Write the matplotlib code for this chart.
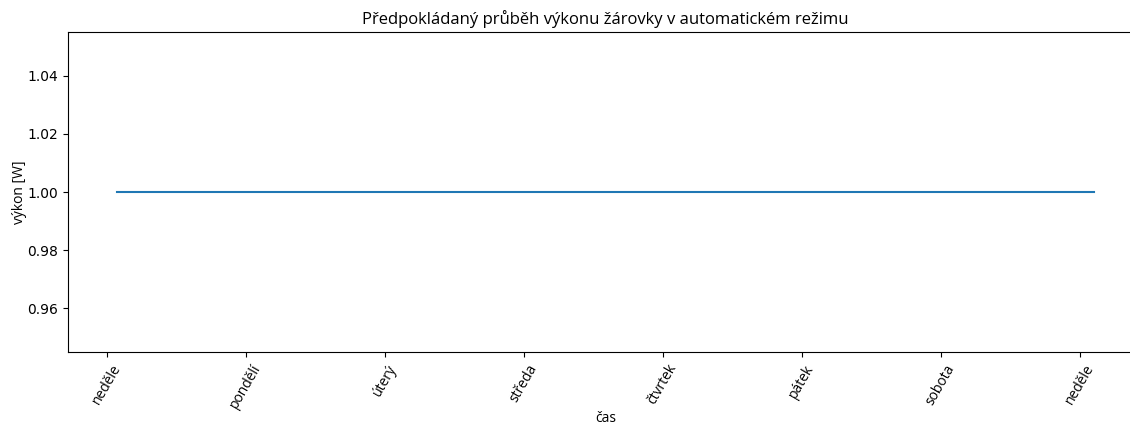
import matplotlib
matplotlib.use("Agg")
import matplotlib.pyplot as plt

# Data: hours from Sunday 00:00, bulb power [W]
hours = [1.75, 170.5]
power = [1.0, 1.0]

day_ticks = [0, 24, 48, 72, 96, 120, 144, 168]
day_labels = ["neděle", "pondělí", "úterý", "středa", "čtvrtek", "pátek", "sobota", "neděle"]

text_font = ["Open Sans", "DejaVu Sans"]

fig = plt.figure(figsize=(11.3, 4.25), dpi=100)
# the original axes run past the right edge of the picture
ax = fig.add_axes([68 / 1130, 73 / 425, 1075 / 1130, 320 / 425])

ax.plot(hours, power, color="#1f77b4", linewidth=1.5)
ax.spines["right"].set_visible(False)

ax.set_xticks(day_ticks)
ax.set_xticklabels(day_labels, rotation=60, family=text_font, fontsize=10)
ax.set_title("Předpokládaný průběh výkonu žárovky v automatickém režimu",
             family=text_font, fontsize=12)
ax.set_xlabel("čas", family=text_font, fontsize=10, labelpad=0)
ax.set_ylabel("výkon [W]", family=text_font, fontsize=10, labelpad=0)

fig.savefig("out.png", dpi=100)
